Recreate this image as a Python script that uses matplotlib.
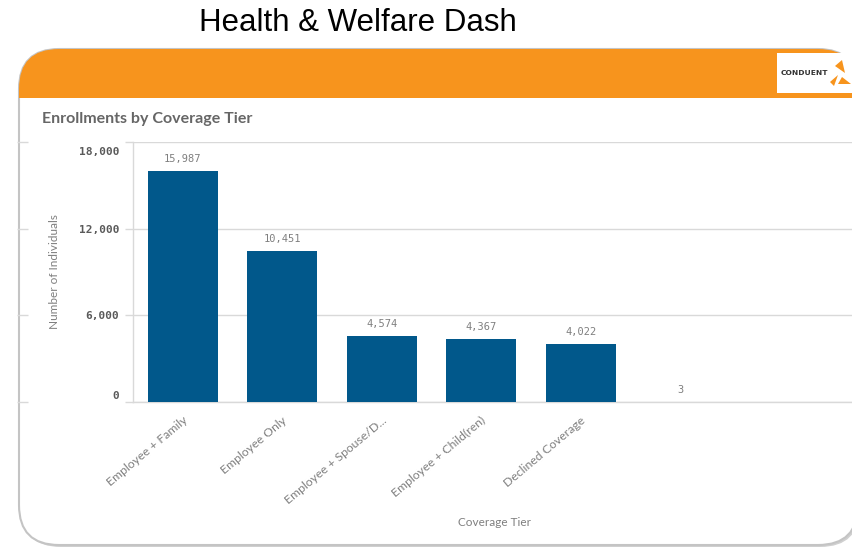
import matplotlib
matplotlib.use("Agg")
import matplotlib.pyplot as plt
from matplotlib.patches import FancyBboxPatch, Rectangle, Polygon
from matplotlib.transforms import ScaledTranslation, blended_transform_factory

# Data
categories = ["Employee + Family", "Employee Only", "Employee + Spouse/D...",
              "Employee + Child(ren)", "Declined Coverage", ""]
enrollments = [15987, 10451, 4574, 4367, 4022, 3]
y_ticks = [0, 6000, 12000, 18000]

W, H = 852, 548
bar_color = "#01588b"
orange = "#f7941d"
grid_color = "#d9d9d9"
text_gray = "#7f7f7f"

fig = plt.figure(figsize=(W / 100, H / 100), dpi=100)

# background layer in pixel coordinates (y down)
bg = fig.add_axes([0, 0, 1, 1])
bg.set_xlim(0, W)
bg.set_ylim(H, 0)
bg.axis("off")

bg.text(358, 23, "Health & Welfare Dash", fontsize=22.5, family="Liberation Sans",
        color="black", ha="center", va="center")

# panel with shadow
px0, py0, px1, py1, rad = 19, 49, 858, 545, 40
shadow = FancyBboxPatch((px0 + 2, py0 + 2), px1 - px0, py1 - py0,
                        boxstyle=f"round,pad=0,rounding_size={rad}",
                        fc="#d0d0d0", ec="none", zorder=1)
bg.add_patch(shadow)
panel = FancyBboxPatch((px0, py0), px1 - px0, py1 - py0,
                       boxstyle=f"round,pad=0,rounding_size={rad}",
                       fc="white", ec="#c4c4c4", lw=1.5, zorder=2)
bg.add_patch(panel)
band = Rectangle((px0, py0), px1 - px0, 98 - py0, fc=orange, ec="none", zorder=3)
bg.add_patch(band)
band.set_clip_path(panel)

# logo
bg.add_patch(Rectangle((777, 53), 80, 40, fc="white", ec="none", zorder=4))
bg.text(804, 73, "CONDUENT", fontsize=5.4, fontweight="bold", color="#333333",
        family="DejaVu Sans", ha="center", va="center", zorder=5)
bg.add_patch(Polygon([[835, 66], [842, 60], [845, 73]], fc=orange, ec="none", zorder=5))
bg.add_patch(Polygon([[830, 82], [838, 75], [834, 86]], fc=orange, ec="none", zorder=5))
bg.add_patch(Polygon([[842, 77], [851, 84], [838, 84]], fc=orange, ec="none", zorder=5))

bg.text(42, 119, "Enrollments by Coverage Tier", fontsize=11.5, fontweight="bold",
        family="Lato", color="#666666", ha="left", va="center", zorder=5)

# chart axes
left, right, top, bottom = 133, 852, 142, 402
ax = fig.add_axes([left / W, 1 - bottom / H, (right - left) / W, (bottom - top) / H])
ax.set_facecolor("none")
ax.set_zorder(5)

x = list(range(len(categories)))
bars = ax.bar(x, enrollments, width=0.7, color=bar_color, zorder=3)
for rect, v in zip(bars, enrollments):
    ax.annotate(f"{v:,}", (rect.get_x() + rect.get_width() / 2, v),
                xytext=(0, 5), textcoords="offset points", ha="center", va="bottom",
                fontsize=7.5, family="DejaVu Sans Mono", color=text_gray)

ax.set_xlim(-0.5, (right - left) / 99.5 - 0.5)
ax.set_ylim(0, 18000)
ax.set_yticks(y_ticks)
ax.set_yticklabels([f"{t:,}" for t in y_ticks], family="DejaVu Sans Mono",
                   fontsize=8, fontweight="bold", color="#5a5a5a")
ax.yaxis.grid(True, color=grid_color, lw=1, zorder=0)
ax.tick_params(axis="y", length=6, width=1, color=grid_color, pad=4)
ax.set_xticks(x)
ax.set_xticklabels(categories, rotation=40, ha="right", va="center",
                   rotation_mode="anchor", family="Lato", fontsize=8.8, color=text_gray)
ax.tick_params(axis="x", length=0, pad=12)
for lab in ax.get_xticklabels():
    lab.set_transform(lab.get_transform() + ScaledTranslation(0.03, 0, fig.dpi_scale_trans))

ylabs = ax.get_yticklabels()
ylabs[0].set_transform(ylabs[0].get_transform() + ScaledTranslation(0, 0.07, fig.dpi_scale_trans))
ylabs[-1].set_transform(ylabs[-1].get_transform() + ScaledTranslation(0, -0.09, fig.dpi_scale_trans))

for side in ["top", "right"]:
    ax.spines[side].set_visible(False)
for side in ["left", "bottom"]:
    ax.spines[side].set_color(grid_color)
    ax.spines[side].set_linewidth(1)

# short marks at the left edge of the panel
trans = blended_transform_factory(bg.transData, ax.transData)
ax.hlines(y_ticks, 17, 28, transform=trans, color=grid_color, lw=1, clip_on=False)

ax.set_ylabel("Number of Individuals", family="Lato", fontsize=8.5, color=text_gray)
ax.yaxis.set_label_coords(55 / W, 0.5, transform=blended_transform_factory(fig.transFigure, ax.transAxes))
ax.set_xlabel("Coverage Tier", family="Lato", fontsize=8.5, color=text_gray)
ax.xaxis.set_label_coords(494 / W, 1 - 523 / H, transform=fig.transFigure)
ax.xaxis.label.set_va("center")
ax.yaxis.label.set_va("center")

fig.savefig("out.png", dpi=100)
